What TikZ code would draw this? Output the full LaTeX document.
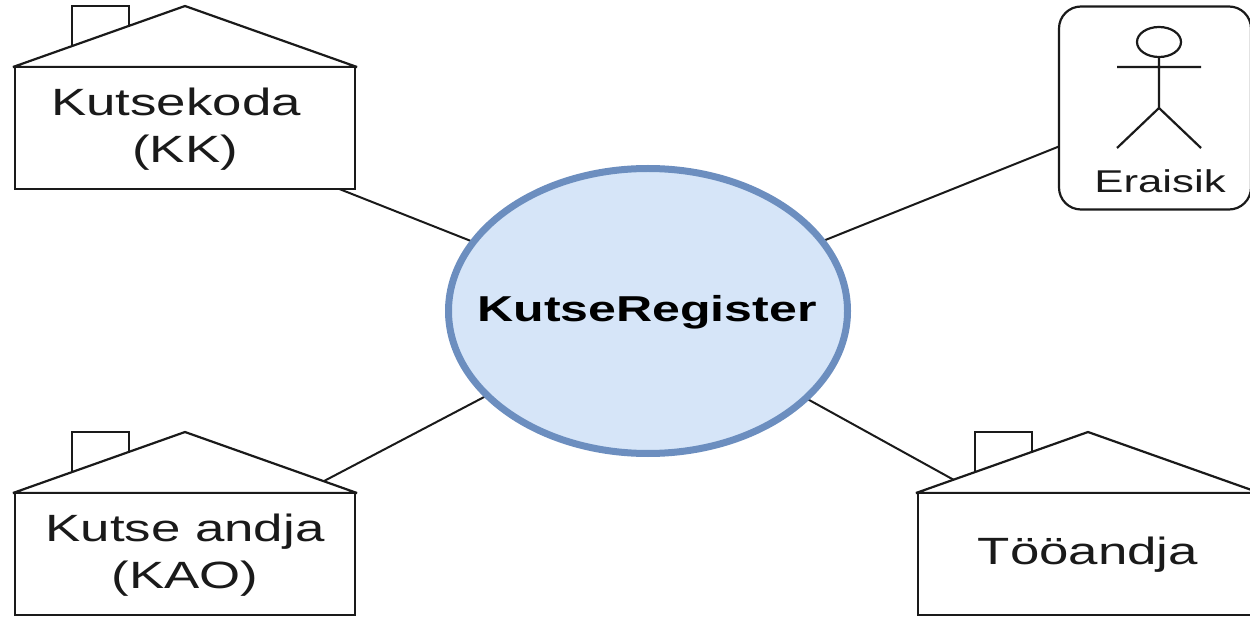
\documentclass[tikz,border=0pt]{standalone}
\usepackage{fontspec}
\setmainfont[FakeStretch=1.39]{Liberation Sans}
\usetikzlibrary{backgrounds,shapes.geometric}
\definecolor{inkc}{HTML}{1A1A1A}
\definecolor{regfill}{HTML}{D6E5F8}
\definecolor{regline}{HTML}{6C8EBF}
\tikzset{
  every picture/.style={x=1pt,y=-1pt},
  ink/.style={draw=inkc,line width=2.2pt},
  housebody/.style={ink,fill=white,minimum width=340pt,minimum height=122pt,inner sep=0pt,outer sep=0pt},
  houselabel/.style={inner sep=0pt,align=center,text=inkc,font=\fontsize{38}{47}\selectfont},
  link/.style={draw=inkc,line width=2pt},
  actorbox/.style={ink,fill=white,rounded corners=22pt,minimum width=192pt,minimum height=203pt,inner sep=0pt},
  actorlabel/.style={text=inkc,inner sep=0pt,font=\fontsize{31.5}{36}\selectfont},
  hub/.style={ellipse,draw=regline,line width=7pt,fill=regfill,minimum width=399pt,minimum height=285pt,inner sep=0pt,outer sep=0pt},
  hublabel/.style={text=black,inner sep=0pt,font=\fontsize{36}{42}\selectfont\bfseries}
}
\newcommand{\housenode}[4]{%
  \begin{scope}[shift={(#2,#3)}]
    \draw[ink,line join=miter] (-113,-83) -- (-113,-122) -- (-56,-122) -- (-56,-102);
    \draw[ink,fill=white,line join=bevel] (-172,-61) -- (0,-122) -- (172,-61) -- cycle;
    \node[housebody] (#1) at (0,0) {};
    \node[houselabel] (#1label) at (0,1) {#4};
  \end{scope}}
\begin{document}
\begin{tikzpicture}
  \useasboundingbox (0,0) rectangle (1250,617);
  \clip (0,0) rectangle (1250,617);
  \node[hub] (reg) at (648,311) {};
  \node[hublabel] (reglabel) at (647,312) {KutseRegister};
  \housenode{kk}{185}{128}{Kutsekoda\rule{18pt}{0pt}\\(KK)}
  \housenode{kao}{185}{554}{Kutse andja\\(KAO)}
  \housenode{too}{1088}{554}{Tööandja}
  \node[actorbox] (era) at (1155,108) {};
  \node[actorlabel] (eralabel) at (1160,181) {Eraisik};
  \draw[ink] (1159,42) ellipse (22 and 15);
  \draw[ink] (1159,57) -- (1159,108) (1117,67) -- (1201,67) (1117,148) -- (1159,108) -- (1201,148);
  \begin{scope}[on background layer]
    \draw[link] (kk.center) -- (reg.center);
    \draw[link] (kao.center) -- (reg.center);
    \draw[link] (too.center) -- (reg.center);
    \draw[link] (era.center) -- (reg.center);
  \end{scope}
\end{tikzpicture}
\end{document}
